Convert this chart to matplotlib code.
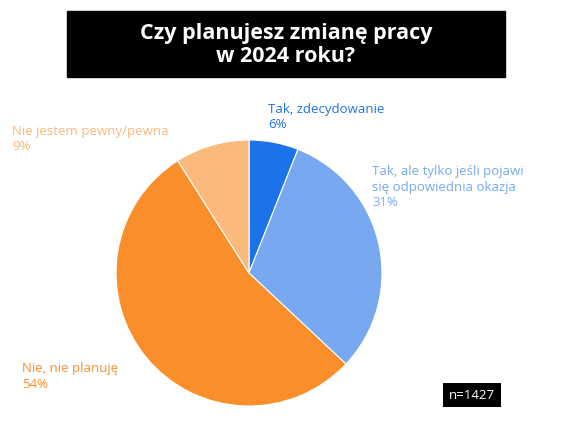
import matplotlib.pyplot as plt

labels = ["Tak, zdecydowanie", "Tak, ale tylko jeśli pojawi\nsię odpowiednia okazja",
          "Nie, nie planuję", "Nie jestem pewny/pewna"]
values = [6, 31, 54, 9]
colors = ["#1a73e8", "#78a9f0", "#f98e2a", "#fbb97c"]

W, H = 571, 427
fig = plt.figure(figsize=(W / 100, H / 100), dpi=100)
fig.patch.set_facecolor("white")

# title box
fig.patches.append(plt.Rectangle((67 / W, 1 - 78 / H), 438 / W, 66 / H,
                                 transform=fig.transFigure, color="black"))
fig.text(286 / W, 1 - 45 / H, "Czy planujesz zmianę pracy\nw 2024 roku?", color="white",
         fontsize=15.5, fontweight="bold", ha="center", va="center",
         family="Open Sans", linespacing=1.15)

cx, cy, r = 249, 274, 133
ax = fig.add_axes([(cx - r) / W, (H - cy - r) / H, 2 * r / W, 2 * r / H])
ax.pie(values, colors=colors, startangle=90, counterclock=False,
       wedgeprops=dict(edgecolor="white", linewidth=0.8))
ax.set_xlim(-1, 1)
ax.set_ylim(-1, 1)
ax.set_aspect("equal")

pos = [(268, 103), (372, 165), (22, 362), (12, 125)]
for lab, v, c, (x, y) in zip(labels, values, colors, pos):
    fig.text(x / W, 1 - y / H, f"{lab}\n{v}%", color=c, fontsize=9.5,
             ha="left", va="top", family="Open Sans", linespacing=1.25)

fig.text(472 / W, 1 - 396 / H, "n=1427", color="white", fontsize=9.5,
         ha="center", va="center", family="Open Sans",
         bbox=dict(facecolor="black", edgecolor="none", pad=4))

fig.savefig("out.png", dpi=100)
